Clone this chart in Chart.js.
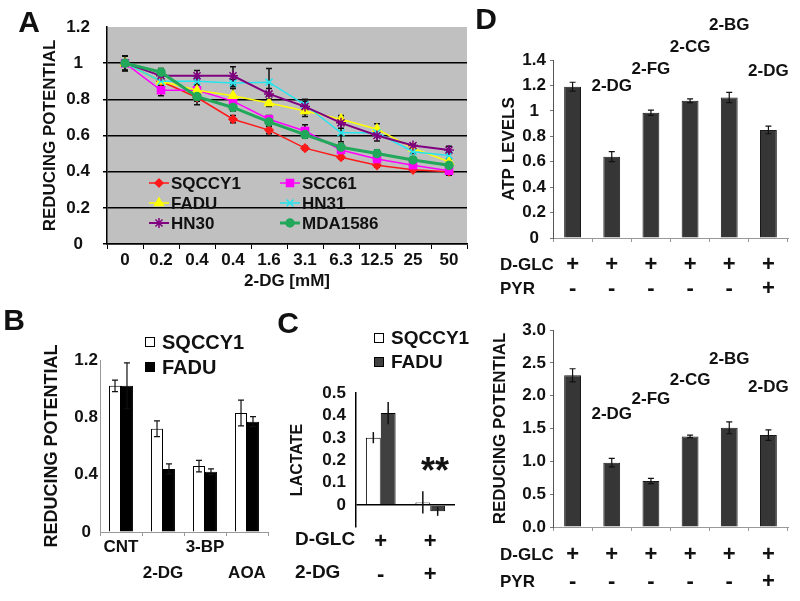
<!DOCTYPE html>
<html>
<head>
<meta charset="utf-8">
<script src="https://cdn.jsdelivr.net/npm/chart.js@4/dist/chart.umd.min.js"></script>
<style>
  body { margin: 0; background: #fff; width: 800px; height: 601px; position: relative; overflow: hidden; }
  canvas { position: absolute; }
  #chartC { z-index: 5; }
</style>
</head>
<body>
<canvas id="chartA" width="505" height="300" style="left:0;top:0"></canvas>
<canvas id="chartB" width="270" height="301" style="left:0;top:300px"></canvas>
<canvas id="chartD1" width="335" height="300" style="left:465px;top:0"></canvas>
<canvas id="chartD2" width="335" height="301" style="left:465px;top:300px"></canvas>
<canvas id="chartC" width="235" height="301" style="left:270px;top:300px"></canvas>
<script>
// A: reducing potential vs 2-DG dose
const doseLabels = ['0', '0.2', '0.4', '0.4', '1.6', '3.1', '6.3', '12.5', '25', '50'];
const sqccy1 = [1.00, 0.90, 0.81, 0.69, 0.63, 0.53, 0.48, 0.435, 0.41, 0.40];
const scc61 = [1.00, 0.85, 0.85, 0.79, 0.69, 0.625, 0.52, 0.47, 0.435, 0.405];
const fadu = [1.00, 0.90, 0.85, 0.82, 0.78, 0.735, 0.69, 0.635, 0.53, 0.455];
const hn31 = [1.00, 0.90, 0.90, 0.89, 0.895, 0.77, 0.615, 0.615, 0.51, 0.49];
const hn30 = [1.00, 0.93, 0.93, 0.93, 0.83, 0.76, 0.67, 0.60, 0.545, 0.52];
const mda1586 = [1.00, 0.95, 0.815, 0.755, 0.675, 0.605, 0.535, 0.50, 0.465, 0.435];
const sqccy1Err = [0.04, 0.02, 0.02, 0.02, 0.02, 0.01, 0.01, 0.01, 0.01, 0.02];
const scc61Err = [0.04, 0.03, 0.02, 0.02, 0.02, 0.035, 0.02, 0.01, 0.01, 0.02];
const faduErr = [0.04, 0.02, 0.03, 0.04, 0.02, 0.03, 0.02, 0.03, 0.01, 0.02];
const hn31Err = [0.04, 0.02, 0.02, 0.02, 0.075, 0.02, 0.05, 0.01, 0.01, 0.02];
const hn30Err = [0.04, 0.03, 0.03, 0.05, 0.03, 0.04, 0.03, 0.03, 0.01, 0.02];
const mdaErr = [0.04, 0.02, 0.045, 0.02, 0.02, 0.02, 0.02, 0.02, 0.01, 0.01];

// B: reducing potential per treatment
const bLabels = ['CNT', ['', '2-DG'], '3-BP', ['', 'AOA']];
const bSqccy1 = [1.02, 0.72, 0.46, 0.83];
const bSqccy1Err = [0.04, 0.055, 0.04, 0.09];
const bFadu = [1.02, 0.44, 0.42, 0.77];
const bFaduErr = [0.16, 0.035, 0.02, 0.035];

// C: lactate
const cLabels = [['+', '-'], ['+', '+']];
const lactateTicks = [0, 0.1, 0.2, 0.3, 0.4, 0.5];
const lactateTickText = ['0', '0.1', '0.2', '0.3', '0.4', '0.5'];
const cSqccy1 = [0.30, 0.01];
const cSqccy1Err = [0.025, 0.05];
const cFadu = [0.41, -0.03];
const cFaduErr = [0.05, 0.02];

// D: ATP levels and reducing potential per sugar analogue
const dLabels = [['+', '-'], ['+', '-'], ['+', '-'], ['+', '-'], ['+', '-'], ['+', '+']];
const sugarTags = ['', '2-DG', '2-FG', '2-CG', '2-BG', '2-DG'];
const atpLevels = [1.19, 0.64, 0.985, 1.08, 1.105, 0.85];
const atpErr = [0.035, 0.04, 0.02, 0.015, 0.04, 0.03];
const atpTagAt = [0, 1.19, 1.33, 1.50, 1.67, 1.31];
const redPot = [2.31, 0.98, 0.70, 1.38, 1.51, 1.40];
const redPotErr = [0.1, 0.065, 0.04, 0.02, 0.09, 0.08];
const redTagAt = [0, 1.71, 1.95, 2.24, 2.55, 2.12];

const FAMILY = '"Liberation Sans", Arial, sans-serif';
Chart.defaults.font.family = FAMILY;
Chart.defaults.font.weight = 'bold';
Chart.defaults.color = '#111';
Chart.defaults.animation = false;
Chart.defaults.plugins.legend.display = false;
Chart.defaults.plugins.tooltip.enabled = false;

const fmt = (v) => String(Math.round(v * 100) / 100);

function errorBars(cap, width, under) {
  function draw(chart) {
    const { ctx } = chart;
    const y = chart.scales.y;
    ctx.save();
    ctx.strokeStyle = '#111';
    ctx.lineWidth = width;
    chart.data.datasets.forEach((ds, i) => {
      if (!ds.errors) return;
      chart.getDatasetMeta(i).data.forEach((el, j) => {
        const e = ds.errors[j];
        if (!e) return;
        const top = y.getPixelForValue(ds.data[j] + e);
        const bot = y.getPixelForValue(ds.data[j] - e);
        ctx.beginPath();
        ctx.moveTo(el.x, top); ctx.lineTo(el.x, bot);
        if (cap) {
          ctx.moveTo(el.x - cap, top); ctx.lineTo(el.x + cap, top);
          ctx.moveTo(el.x - cap, bot); ctx.lineTo(el.x + cap, bot);
        }
        ctx.stroke();
      });
    });
    ctx.restore();
  }
  return under
    ? { id: 'errorBars', beforeDatasetsDraw: draw }
    : { id: 'errorBars', afterDatasetsDraw: draw };
}

function plotBg(color) {
  return {
    id: 'plotBg',
    beforeDraw(chart) {
      const { ctx, chartArea: c } = chart;
      ctx.save();
      ctx.fillStyle = color;
      ctx.fillRect(c.left, c.top, c.width, c.height);
      ctx.restore();
    },
  };
}

function textLayer(items) {
  return {
    id: 'textLayer',
    afterDraw(chart) {
      const { ctx } = chart;
      items.forEach((it) => {
        ctx.save();
        ctx.font = it.font;
        ctx.fillStyle = '#111';
        ctx.textAlign = it.align || 'left';
        ctx.textBaseline = it.baseline || 'middle';
        ctx.fillText(it.text, it.x, it.y);
        ctx.restore();
      });
    },
  };
}

// y tick labels placed through the y scale (used for panel C)
function tickText(values, texts, x) {
  return {
    id: 'tickText',
    afterDraw(chart) {
      const { ctx } = chart;
      const y = chart.scales.y;
      ctx.save();
      ctx.font = 'bold 17px ' + FAMILY;
      ctx.fillStyle = '#111';
      ctx.textAlign = 'right';
      ctx.textBaseline = 'middle';
      values.forEach((v, i) => ctx.fillText(texts[i], x, Math.round(y.getPixelForValue(v))));
      ctx.restore();
    },
  };
}

// labels above the bars, placed in data units
function barTags(tags, at) {
  return {
    id: 'barTags',
    afterDraw(chart) {
      const { ctx } = chart;
      const y = chart.scales.y;
      const bars = chart.getDatasetMeta(0).data;
      ctx.save();
      ctx.font = 'bold 17px ' + FAMILY;
      ctx.fillStyle = '#111';
      ctx.textAlign = 'center';
      ctx.textBaseline = 'middle';
      tags.forEach((t, i) => {
        if (t) ctx.fillText(t, bars[i].x, y.getPixelForValue(at[i]));
      });
      ctx.restore();
    },
  };
}

function lineLegend(x, y, colW, rowH) {
  return {
    id: 'lineLegend',
    afterDraw(chart) {
      const { ctx } = chart;
      ctx.save();
      ctx.font = 'bold 17px ' + FAMILY;
      ctx.textBaseline = 'middle';
      chart.data.datasets.forEach((ds, i) => {
        const x0 = x + (i % 2) * colW;
        const y0 = y + Math.floor(i / 2) * rowH;
        ctx.strokeStyle = ds.borderColor;
        ctx.lineWidth = ds.borderWidth;
        ctx.beginPath();
        ctx.moveTo(x0, y0); ctx.lineTo(x0 + 20, y0);
        ctx.stroke();
        ctx.fillStyle = ds.backgroundColor;
        ctx.lineWidth = ds.pointBorderWidth;
        if (Chart.helpers && Chart.helpers.drawPoint) {
          Chart.helpers.drawPoint(ctx, { pointStyle: ds.pointStyle, radius: ds.pointRadius, rotation: 0, borderWidth: ds.pointBorderWidth }, x0 + 10, y0);
        }
        ctx.fillStyle = '#111';
        ctx.fillText(ds.label, x0 + 22, y0 + 1);
      });
      ctx.restore();
    },
  };
}

function boxLegend(x, y, rowH, size) {
  return {
    id: 'boxLegend',
    afterDraw(chart) {
      const { ctx } = chart;
      ctx.save();
      ctx.font = 'bold ' + size + 'px ' + FAMILY;
      ctx.textBaseline = 'middle';
      chart.data.datasets.forEach((ds, i) => {
        const y0 = y + i * rowH;
        ctx.fillStyle = ds.backgroundColor;
        ctx.fillRect(x, y0 - 5, 10, 10);
        ctx.strokeStyle = '#000';
        ctx.lineWidth = 1;
        ctx.strokeRect(x + 0.5, y0 - 4.5, 9, 9);
        ctx.fillStyle = '#111';
        ctx.fillText(ds.label, x + 17, y0 + 1);
      });
      ctx.restore();
    },
  };
}

function series(label, data, errors, color, style, radius, width, order) {
  return {
    label, data, errors, order,
    borderColor: color, backgroundColor: color,
    pointStyle: style, pointRadius: radius, pointBorderWidth: 1.5,
    borderWidth: width, tension: 0,
  };
}

const letter = (t, x, y) => ({ text: t, x, y, font: 'bold 30px ' + FAMILY, align: 'center' });

// ---- A ----
new Chart(document.getElementById('chartA'), {
  type: 'line',
  data: {
    labels: doseLabels,
    datasets: [
      series('SQCCY1', sqccy1, sqccy1Err, '#ff1a1a', 'rectRot', 4, 1.5, 6),
      series('SCC61', scc61, scc61Err, '#ff00ff', 'rect', 5, 1.5, 5),
      series('FADU', fadu, faduErr, '#ffff00', 'triangle', 5, 1.5, 4),
      series('HN31', hn31, hn31Err, '#22e5ee', 'crossRot', 5, 1.5, 3),
      series('HN30', hn30, hn30Err, '#800080', 'star', 5, 2, 2),
      series('MDA1586', mda1586, mdaErr, '#22a85a', 'circle', 4, 3, 1),
    ],
  },
  options: {
    responsive: false,
    layout: { padding: { top: 27, right: 38, left: 0, bottom: 0 } },
    scales: {
      x: {
        offset: true,
        grid: { offset: true, drawOnChartArea: false, color: '#000', tickLength: 5 },
        border: { color: '#000', width: 1.5 },
        ticks: { font: { size: 17 }, padding: 1, maxRotation: 0, autoSkip: false },
        title: { display: true, text: '2-DG [mM]', font: { size: 17 }, padding: { top: 0, bottom: 8 } },
        afterFit: (s) => { s.height = 56; },
      },
      y: {
        min: 0, max: 1.2,
        ticks: { stepSize: 0.2, font: { size: 17 }, padding: 13, crossAlign: 'center', autoSkip: false, callback: fmt },
        grid: { color: (c) => (c.tick.value > 1.1 ? 'rgba(0,0,0,0)' : '#000'), lineWidth: 1.5, tickLength: 4 },
        border: { color: '#000', width: 1.5 },
        title: { display: true, text: 'REDUCING POTENTIAL', font: { size: 17 }, padding: { top: 40, bottom: 0 } },
        afterFit: (s) => { s.width = 107; },
      },
    },
  },
  plugins: [plotBg('#c0c0c0'), errorBars(3, 1.5, true), lineLegend(149, 183, 131, 20),
    textLayer([letter('A', 29, 24), letter('D', 486, 21)])],
});

// ---- B ----
new Chart(document.getElementById('chartB'), {
  type: 'bar',
  data: {
    labels: bLabels,
    datasets: [
      { label: 'SQCCY1', data: bSqccy1, errors: bSqccy1Err, backgroundColor: '#fff', borderColor: '#000', borderWidth: 1 },
      { label: 'FADU', data: bFadu, errors: bFaduErr, backgroundColor: '#000', borderColor: '#000', borderWidth: 1 },
    ],
  },
  options: {
    responsive: false,
    layout: { padding: { top: 60, right: 2, left: 0, bottom: 0 } },
    datasets: { bar: { categoryPercentage: 0.57, barPercentage: 1 } },
    scales: {
      x: {
        grid: { offset: true, drawOnChartArea: false, color: '#999', tickLength: 4 },
        border: { color: '#999', width: 1 },
        ticks: { font: { size: 17, lineHeight: '26px' }, padding: -2, maxRotation: 0, autoSkip: false },
        afterFit: (s) => { s.height = 69; },
      },
      y: {
        min: 0, max: 1.2,
        ticks: { stepSize: 0.4, font: { size: 17 }, padding: 2, crossAlign: 'center', autoSkip: false, callback: fmt },
        grid: { drawOnChartArea: false, drawTicks: false },
        border: { color: '#999', width: 1 },
        title: { display: true, text: 'REDUCING POTENTIAL', font: { size: 18 }, padding: { top: 41, bottom: 0 } },
        afterFit: (s) => { s.width = 100; },
      },
    },
  },
  plugins: [errorBars(3, 1.2, false), boxLegend(145, 42, 25, 20), textLayer([letter('B', 14, 22)])],
});

// ---- C ----
new Chart(document.getElementById('chartC'), {
  type: 'bar',
  data: {
    labels: cLabels,
    datasets: [
      { label: 'SQCCY1', data: cSqccy1, errors: cSqccy1Err, backgroundColor: '#fff', borderColor: '#000', borderWidth: 1 },
      { label: 'FADU', data: cFadu, errors: cFaduErr, backgroundColor: '#404040', borderColor: '#000', borderWidth: 1 },
    ],
  },
  options: {
    responsive: false,
    layout: { padding: { top: 93, right: 50, left: 0, bottom: 0 } },
    datasets: { bar: { categoryPercentage: 0.6, barPercentage: 1 } },
    scales: {
      x: {
        grid: { display: false },
        border: { display: false },
        ticks: { font: { size: 22, lineHeight: '33px' }, padding: -10, maxRotation: 0, autoSkip: false },
        afterFit: (s) => { s.height = 74; },
      },
      y: {
        min: -0.1, max: 0.5,
        afterBuildTicks: (s) => { s.ticks = lactateTicks.map((v) => ({ value: v })); },
        ticks: { display: false },
        grid: { color: (c) => (Math.abs(c.tick.value) < 0.001 ? '#000' : 'rgba(0,0,0,0)'), lineWidth: 1.5, drawTicks: false },
        border: { color: '#000', width: 1.5 },
        title: { display: true, text: 'LACTATE', font: { size: 16 }, padding: { top: 18, bottom: 0 } },
        afterFit: (s) => { s.width = 86; },
      },
    },
  },
  plugins: [errorBars(0, 1.5, false), boxLegend(104, 38, 24, 19), textLayer([
    letter('C', 18, 25),
    { text: 'D-GLC', x: 25, y: 240, font: 'bold 19px ' + FAMILY },
    { text: '2-DG', x: 25, y: 273, font: 'bold 19px ' + FAMILY },
    { text: '**', x: 165, y: 183, font: 'bold 36px ' + FAMILY, align: 'center', baseline: 'alphabetic' },
  ]), tickText(lactateTicks, lactateTickText, 76)],
});

// ---- D ----
function panelD(id, values, errors, tagAt, yMax, step, yTitle, yFmt, padTop, xHeight, rowH, rowPad, titlePad, rowY) {
  new Chart(document.getElementById(id), {
    type: 'bar',
    data: {
      labels: dLabels,
      datasets: [{ label: yTitle, data: values, errors, backgroundColor: '#363636', borderColor: '#1a1a1a', borderWidth: 1 }],
    },
    options: {
      responsive: false,
      layout: { padding: { top: padTop, right: 12, left: 0, bottom: 0 } },
      datasets: { bar: { categoryPercentage: 1, barPercentage: 0.43 } },
      scales: {
        x: {
          grid: { offset: true, drawOnChartArea: false, color: '#999', tickLength: 4 },
          border: { color: '#999', width: 1 },
          ticks: { font: { size: 22, lineHeight: rowH + 'px' }, padding: rowPad, maxRotation: 0, autoSkip: false },
          afterFit: (s) => { s.height = xHeight; },
        },
        y: {
          min: 0, max: yMax,
          ticks: { stepSize: step, font: { size: 17 }, padding: 4, crossAlign: 'center', autoSkip: false, callback: yFmt },
          grid: { drawOnChartArea: false, color: '#777', tickLength: 3 },
          border: { color: '#555', width: 1 },
          title: { display: true, text: yTitle, font: { size: 17 }, padding: { top: titlePad, bottom: 0 } },
          afterFit: (s) => { s.width = 88; },
        },
      },
    },
    plugins: [errorBars(3, 1.2, false), barTags(sugarTags, tagAt), textLayer([
      { text: 'D-GLC', x: 35, y: rowY, font: 'bold 17px ' + FAMILY },
      { text: 'PYR', x: 35, y: rowY + rowH, font: 'bold 17px ' + FAMILY },
    ])],
  });
}

panelD('chartD1', atpLevels, atpErr, atpTagAt, 1.4, 0.2, 'ATP LEVELS', fmt, 60, 62, 24, 11, 34, 265);
panelD('chartD2', redPot, redPotErr, redTagAt, 3.0, 0.5, 'REDUCING POTENTIAL', (v) => v.toFixed(1), 30, 74, 27, 10.5, 25, 255);
</script>
</body>
</html>
